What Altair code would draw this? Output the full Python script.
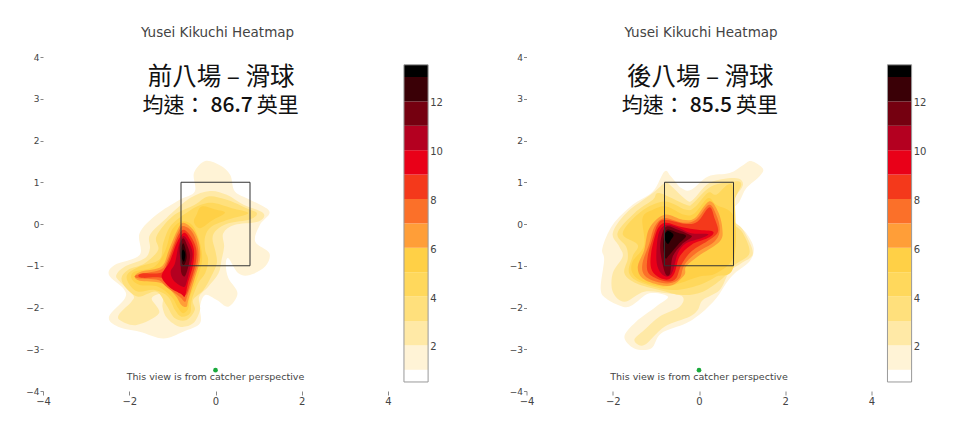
import altair as alt
import pandas as pd

LEVELS = list(range(0, 14))
COLORS = ["#ffffff", "#fff3d6", "#ffe9a6", "#ffe07c", "#ffd85c", "#ffd046", "#ff9e38", "#fb7029",
          "#f4391b", "#e90018", "#b40020", "#750010", "#3a0006", "#000000"]
BAND_LOW = [0.5, 1, 2, 3, 4, 5, 6, 7, 8, 9, 10, 11, 12, 13]
BAND_HIGH = [1, 2, 3, 4, 5, 6, 7, 8, 9, 10, 11, 12, 13, 13.5]
BAR_TICKS = [2, 4, 6, 8, 10, 12]
X_TICKS = [-4, -2, 0, 2, 4]
Y_TICKS = [-4, -3, -2, -1, 0, 1, 2, 3, 4]
ZONE = dict(x=-0.8, x2=0.8, y=-1, y2=1)

left_1 = [(-0.24,1.51),(0.10,1.41),(0.34,1.18),(0.45,0.78),(0.80,0.58),(1.25,0.30),(1.03,-0.02),(0.92,-0.42),(1.25,-0.70),(1.15,-1.02),(0.80,-1.22),(0.53,-1.18),(0.30,-0.82),(0.24,-0.98),(0.30,-1.30),(0.51,-1.66),(0.30,-1.98),(0.03,-1.82),(-0.24,-1.70),(-0.36,-1.98),(-0.36,-2.38),(-0.75,-2.58),(-1.21,-2.74),(-1.76,-2.58),(-2.26,-2.46),(-2.47,-2.22),(-2.10,-1.78),(-2.14,-1.54),(-2.47,-1.22),(-2.34,-0.98),(-1.76,-0.74),(-1.76,-0.22),(-1.37,0.22),(-0.83,0.58),(-0.48,0.78),(-0.50,1.22)]
left_2 = [(-0.13,0.79),(0.26,0.70),(0.65,0.46),(1.11,0.26),(1.00,0.06),(0.45,-0.02),(0.18,-0.22),(0.20,-0.54),(0.14,-0.86),(0.07,-1.18),(-0.17,-1.50),(-0.38,-1.74),(-0.36,-2.06),(-0.52,-2.38),(-0.83,-2.46),(-1.12,-2.26),(-1.23,-1.98),(-1.21,-1.68),(-1.48,-1.78),(-1.31,-2.14),(-1.83,-2.42),(-2.22,-2.30),(-2.22,-2.14),(-1.95,-1.86),(-1.91,-1.70),(-2.22,-1.38),(-2.30,-1.22),(-2.10,-1.02),(-1.64,-0.82),(-1.52,-0.58),(-1.52,-0.26),(-1.14,0.14),(-0.59,0.62)]
left_3 = [(-0.17,0.66),(0.26,0.58),(0.72,0.38),(0.96,0.26),(0.80,0.11),(0.30,0.02),(0.03,-0.14),(-0.07,-0.34),(0.00,-0.66),(0.03,-0.94),(-0.10,-1.26),(-0.28,-1.58),(-0.52,-1.82),(-0.48,-2.06),(-0.67,-2.30),(-0.94,-2.26),(-1.14,-1.94),(-1.37,-1.62),(-1.79,-1.74),(-2.07,-1.54),(-2.18,-1.30),(-2.03,-1.10),(-1.64,-0.94),(-1.33,-0.62),(-1.37,-0.30),(-1.00,0.18),(-0.48,0.46)]
left_4 = [(-0.28,0.48),(-0.01,0.50),(0.38,0.38),(0.76,0.26),(0.30,0.11),(-0.09,-0.06),(-0.24,-0.30),(-0.24,-0.62),(-0.17,-0.86),(-0.24,-1.18),(-0.40,-1.42),(-0.55,-1.82),(-0.59,-2.14),(-0.79,-2.22),(-0.94,-2.06),(-1.10,-1.74),(-1.41,-1.58),(-1.79,-1.62),(-1.99,-1.46),(-2.05,-1.22),(-1.76,-1.02),(-1.30,-0.85),(-1.21,-0.45),(-1.02,-0.02),(-0.60,0.32)]
left_5a = [(-0.79,0.06),(-0.55,-0.02),(-0.38,-0.38),(-0.31,-0.86),(-0.44,-1.34),(-0.59,-1.74),(-0.63,-2.02),(-0.75,-2.14),(-0.86,-2.02),(-1.02,-1.74),(-1.33,-1.50),(-1.76,-1.46),(-1.95,-1.30),(-1.87,-1.14),(-1.41,-1.02),(-1.16,-0.62),(-1.02,-0.16)]
left_5b = [(-0.32,0.42),(-0.01,0.35),(0.22,0.27),(-0.09,0.08),(-0.36,-0.10),(-0.50,0.05),(-0.44,0.22)]
left_6 = [(-0.75,0.03),(-0.52,-0.14),(-0.38,-0.46),(-0.36,-0.86),(-0.48,-1.30),(-0.63,-1.82),(-0.67,-1.98),(-0.79,-1.94),(-0.94,-1.70),(-1.25,-1.42),(-1.76,-1.36),(-1.87,-1.25),(-1.72,-1.14),(-1.25,-1.02),(-1.08,-0.62),(-0.90,-0.18)]
left_7 = [(-0.75,-0.05),(-0.55,-0.18),(-0.42,-0.50),(-0.40,-0.86),(-0.52,-1.30),(-0.66,-1.74),(-0.71,-1.86),(-0.83,-1.74),(-1.14,-1.50),(-1.33,-1.34),(-1.79,-1.30),(-1.83,-1.22),(-1.29,-1.10),(-1.15,-0.94),(-1.00,-0.54),(-0.86,-0.18)]
left_8 = [(-0.73,-0.14),(-0.58,-0.29),(-0.45,-0.58),(-0.46,-0.94),(-0.59,-1.42),(-0.69,-1.70),(-0.83,-1.62),(-1.21,-1.30),(-1.68,-1.29),(-1.79,-1.24),(-1.68,-1.18),(-1.25,-1.16),(-1.10,-0.90),(-0.94,-0.46),(-0.83,-0.22)]
left_9 = [(-0.73,-0.21),(-0.59,-0.37),(-0.50,-0.62),(-0.52,-0.98),(-0.63,-1.38),(-0.71,-1.73),(-0.79,-1.68),(-1.06,-1.52),(-1.24,-1.30),(-1.21,-1.14),(-1.06,-0.90),(-0.90,-0.46)]
left_10 = [(-0.75,-0.29),(-0.63,-0.42),(-0.53,-0.70),(-0.58,-1.02),(-0.69,-1.46),(-0.79,-1.49),(-0.98,-1.34),(-1.04,-1.14),(-0.94,-0.94),(-0.86,-0.54)]
left_11 = [(-0.75,-0.34),(-0.66,-0.50),(-0.59,-0.74),(-0.63,-1.02),(-0.71,-1.25),(-0.79,-1.18),(-0.81,-0.94),(-0.83,-0.54)]
left_12 = [(-0.75,-0.46),(-0.69,-0.62),(-0.67,-0.82),(-0.73,-0.98),(-0.79,-0.90),(-0.81,-0.66)]
left_13 = [(-0.75,-0.61),(-0.70,-0.72),(-0.73,-0.90),(-0.78,-0.82),(-0.79,-0.70)]

right_1 = [(1.21,1.51),(1.48,1.33),(1.41,1.15),(1.10,0.86),(0.94,0.54),(0.79,0.34),(0.83,0.06),(1.10,-0.22),(1.27,-0.58),(1.17,-0.90),(0.83,-1.18),(0.63,-1.42),(0.40,-1.78),(0.05,-2.14),(-0.30,-2.38),(-0.88,-2.62),(-1.11,-2.98),(-1.50,-2.98),(-1.73,-2.70),(-1.46,-2.34),(-1.00,-1.98),(-0.72,-1.74),(-1.15,-1.66),(-1.54,-1.94),(-1.77,-1.98),(-2.16,-1.78),(-2.28,-1.54),(-2.20,-0.86),(-2.24,-0.58),(-2.00,-0.02),(-1.54,0.46),(-1.07,0.78),(-0.80,1.26),(-0.65,1.14),(-0.41,0.86),(-0.18,0.82),(0.21,1.14),(0.71,1.22),(1.02,1.41)]
right_2 = [(-0.72,0.98),(-0.30,0.58),(-0.14,0.58),(0.24,0.98),(0.83,1.10),(1.02,0.94),(0.79,0.54),(0.79,0.10),(1.02,-0.14),(1.25,-0.70),(0.98,-0.94),(0.71,-1.14),(0.48,-1.58),(0.09,-1.82),(-0.03,-2.06),(-0.22,-2.22),(-0.80,-2.46),(-1.27,-2.90),(-1.50,-2.78),(-1.27,-2.54),(-0.92,-2.22),(-0.45,-1.98),(-0.38,-1.74),(-0.76,-1.66),(-1.27,-1.62),(-1.73,-1.86),(-2.00,-1.62),(-2.00,-1.18),(-1.77,-0.78),(-1.85,-0.54),(-2.00,-0.22),(-1.69,0.26),(-1.07,0.74),(-0.80,0.98)]
right_3 = [(-0.92,0.74),(-0.30,0.46),(-0.14,0.50),(0.28,0.90),(0.83,1.02),(0.98,0.94),(0.83,0.58),(0.79,0.06),(1.02,-0.22),(1.17,-0.70),(0.83,-0.98),(0.55,-1.30),(0.09,-1.62),(-0.38,-1.70),(-0.92,-1.58),(-1.46,-1.42),(-1.73,-1.18),(-1.65,-0.82),(-1.69,-0.54),(-1.89,-0.22),(-1.50,0.26),(-1.07,0.58)]
right_4 = [(-0.80,0.54),(-0.30,0.34),(-0.10,0.40),(0.21,0.75),(0.40,0.70),(0.79,0.86),(0.81,-0.98),(0.40,-1.26),(0.01,-1.46),(-0.61,-1.58),(-1.31,-1.42),(-1.62,-1.18),(-1.54,-0.78),(-1.42,-0.50),(-1.77,-0.22),(-1.34,0.30)]
right_5 = [(-0.76,0.42),(-0.34,0.22),(-0.10,0.26),(0.21,0.62),(0.40,0.46),(0.80,0.18),(0.80,-0.78),(0.40,-1.18),(0.01,-1.26),(-0.45,-1.42),(-0.84,-1.50),(-1.31,-1.38),(-1.54,-1.18),(-1.54,-0.90),(-1.27,-0.50),(-1.31,0.14),(-1.07,0.34)]
right_6 = [(-0.80,0.22),(-0.38,0.10),(-0.10,0.14),(0.23,0.54),(0.44,0.30),(0.54,-0.10),(0.48,-0.42),(-0.03,-0.78),(-0.30,-1.02),(-0.34,-1.22),(-0.61,-1.46),(-0.92,-1.46),(-1.31,-1.30),(-1.42,-1.02),(-1.27,-0.62),(-1.15,-0.10)]
right_7 = [(-0.80,0.14),(-0.38,0.03),(-0.07,0.10),(0.23,0.46),(0.40,0.22),(0.48,-0.14),(0.36,-0.42),(-0.07,-0.70),(-0.34,-0.98),(-0.45,-1.30),(-0.69,-1.42),(-1.00,-1.38),(-1.27,-1.22),(-1.31,-0.94),(-1.15,-0.46),(-1.03,-0.06)]
right_8 = [(-0.80,0.10),(-0.30,0.00),(-0.03,0.06),(0.24,0.40),(0.36,0.14),(0.44,-0.18),(0.24,-0.38),(-0.18,-0.66),(-0.41,-0.98),(-0.53,-1.30),(-0.72,-1.38),(-1.00,-1.30),(-1.19,-1.14),(-1.19,-0.78),(-1.06,-0.30),(-0.96,-0.02)]
right_9 = [(-0.76,0.03),(-0.38,-0.08),(-0.03,-0.14),(0.32,-0.18),(0.24,-0.32),(-0.18,-0.50),(-0.45,-0.78),(-0.57,-1.18),(-0.72,-1.33),(-0.96,-1.26),(-1.11,-1.06),(-1.11,-0.70),(-1.01,-0.26),(-0.92,-0.06)]
right_10 = [(-0.75,-0.02),(-0.45,-0.10),(-0.18,-0.22),(0.21,-0.24),(0.05,-0.34),(-0.30,-0.46),(-0.49,-0.70),(-0.61,-1.14),(-0.72,-1.26),(-0.88,-1.18),(-0.98,-0.94),(-0.98,-0.54),(-0.92,-0.18)]
right_11 = [(-0.75,-0.06),(-0.49,-0.14),(-0.22,-0.26),(-0.18,-0.32),(-0.41,-0.50),(-0.61,-0.78),(-0.67,-1.18),(-0.76,-1.22),(-0.84,-0.98),(-0.90,-0.58),(-0.86,-0.26)]
right_12 = [(-0.72,-0.13),(-0.49,-0.21),(-0.30,-0.29),(-0.49,-0.50),(-0.69,-0.74),(-0.78,-0.82),(-0.83,-0.54),(-0.80,-0.26)]
right_13 = [(-0.71,-0.17),(-0.59,-0.26),(-0.65,-0.38),(-0.72,-0.48),(-0.79,-0.38),(-0.79,-0.24)]

LEFT = [(1,left_1),(2,left_2),(3,left_3),(4,left_4),(5,left_5a),(5,left_5b),(6,left_6),(7,left_7),(8,left_8),(9,left_9),(10,left_10),(11,left_11),(12,left_12),(13,left_13)]
RIGHT = [(1,right_1),(2,right_2),(3,right_3),(4,right_4),(5,right_5),(6,right_6),(7,right_7),(8,right_8),(9,right_9),(10,right_10),(11,right_11),(12,right_12),(13,right_13)]

TITLE = "Yusei Kikuchi Heatmap"
NOTE = "This view is from catcher perspective"
LATIN = "DejaVu Sans"
CJK = "Noto Sans CJK TC"
GRAY = "#444444"

xs = alt.Scale(domain=[-4, 4], nice=False, zero=False)
ys = alt.Scale(domain=[-4, 4], nice=False, zero=False)
bar_y = alt.Scale(domain=[0.13, 13.82], nice=False, zero=False)
fill_scale = alt.Scale(domain=LEVELS, range=COLORS)


def panel(contours, head, speed, text_x):
    rows = []
    for pid, (lvl, pts) in enumerate(contours):
        for i, (px, py) in enumerate(pts):
            rows.append(dict(pid=pid, level=lvl, i=i, x=px, y=py))
    df = pd.DataFrame(rows)

    x = alt.X("x:Q", scale=xs, title=None,
              axis=alt.Axis(values=X_TICKS, grid=False, domain=False, tickSize=4, tickColor="#888888",
                            labelFontSize=10, labelColor=GRAY, labelFont=LATIN, labelPadding=1, labelFlush=False))
    y = alt.Y("y:Q", scale=ys, title=None,
              axis=alt.Axis(values=Y_TICKS, grid=False, domain=False, tickSize=3, tickColor="#888888",
                            labelFontSize=9, labelColor=GRAY, labelFont=LATIN, labelPadding=1))

    blobs = alt.Chart(df).mark_line(interpolate="cardinal-closed", filled=True, strokeWidth=0).encode(
        x=x, y=y,
        order="i:Q",
        detail="pid:N",
        color=alt.Color("level:O", scale=fill_scale, legend=None),
    )

    zone = alt.Chart(pd.DataFrame([ZONE])).mark_rect(fill=None, stroke="#333333", strokeWidth=1).encode(
        x=alt.X("x:Q", scale=xs), x2="x2:Q", y=alt.Y("y:Q", scale=ys), y2="y2:Q")

    def txt(rows_, **kw):
        return alt.Chart(pd.DataFrame(rows_)).mark_text(baseline="middle", **kw).encode(
            x=alt.X("x:Q", scale=xs), y=alt.Y("y:Q", scale=ys), text="t:N")

    headline = txt([dict(x=text_x, y=3.49, t=head)], font=CJK, fontSize=24.5, color="#111111", align="center")
    sp1 = txt([dict(x=text_x - 0.36, y=2.83, t="均速：")], font=CJK, fontSize=21, color="#111111", align="right")
    sp2 = txt([dict(x=text_x - 0.245, y=2.83, t=speed)], font=CJK, fontSize=21, fontWeight=500, color="#111111", align="left")
    sp3 = txt([dict(x=text_x + 1.8, y=2.83, t="英里")], font=CJK, fontSize=21, color="#111111", align="right")
    note = txt([dict(x=0, y=-3.67, t=NOTE)], font=LATIN, fontSize=9.5, color=GRAY, align="center")
    dot = alt.Chart(pd.DataFrame(dict(x=[0], y=[-3.5]))).mark_point(filled=True, size=22, color="#1aaa3c", opacity=1).encode(
        x=alt.X("x:Q", scale=xs), y=alt.Y("y:Q", scale=ys))

    plot = alt.layer(blobs, zone, headline, sp1, sp2, sp3, note, dot)

    bands = pd.DataFrame(dict(level=LEVELS, lo=BAND_LOW, hi=BAND_HIGH, x=[4.37] * 14, x2=[4.93] * 14))
    bar = alt.Chart(bands).mark_rect().encode(
        x=alt.X("x:Q", scale=xs), x2="x2:Q",
        y=alt.Y("lo:Q", scale=bar_y, axis=None), y2="hi:Q",
        color=alt.Color("level:O", scale=fill_scale, legend=None))
    frame = alt.Chart(pd.DataFrame(dict(lo=[0.5], hi=[13.5], x=[4.37], x2=[4.93]))).mark_rect(
        fill=None, stroke="#999999", strokeWidth=1).encode(
        x=alt.X("x:Q", scale=xs), x2="x2:Q",
        y=alt.Y("lo:Q", scale=bar_y, axis=None), y2="hi:Q")
    labels = alt.Chart(pd.DataFrame(dict(v=BAR_TICKS, x=[4.98] * 6))).mark_text(
        align="left", baseline="middle", font=LATIN, fontSize=10, color=GRAY, dy=2).encode(
        x=alt.X("x:Q", scale=xs), y=alt.Y("v:Q", scale=bar_y, axis=None), text="v:Q")
    cbar = alt.layer(bar, frame, labels)

    return alt.layer(plot, cbar).resolve_scale(y="independent").properties(
        width=345, height=334,
        title=alt.TitleParams(TITLE, fontSize=13.5, fontWeight="normal", font=LATIN, color=GRAY,
                              anchor="middle", offset=14, dx=2))


chart = alt.hconcat(
    panel(LEFT, "前八場 – 滑球", "86.7", 0.13),
    panel(RIGHT, "後八場 – 滑球", "85.5", 0.03),
    spacing=65.5,
).properties(padding=dict(left=17, top=17, right=0, bottom=0), background="white").configure_view(stroke=None)

chart.save("out.html", embed_options={"renderer": "svg", "actions": False})
